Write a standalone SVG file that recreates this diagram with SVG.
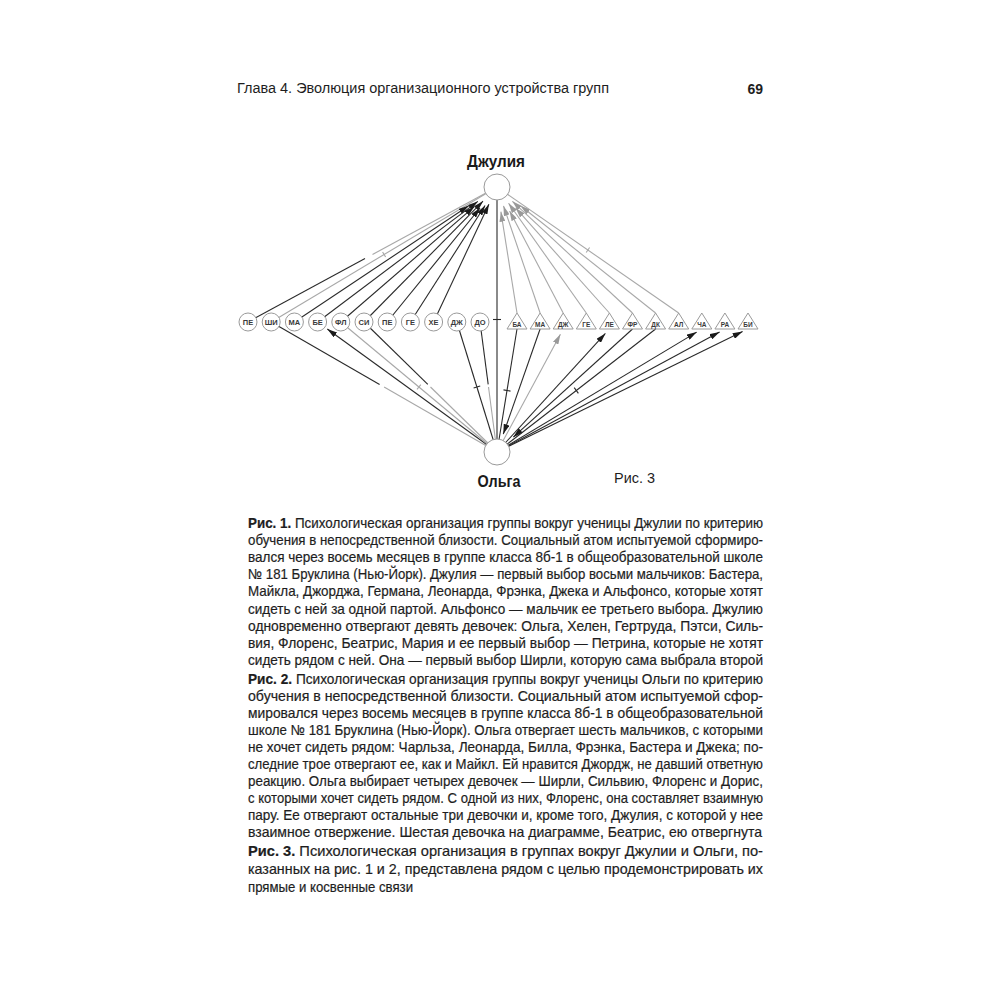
<svg xmlns="http://www.w3.org/2000/svg" width="1000" height="1000" viewBox="0 0 1000 1000">
<style>
.k{stroke:#2a2a2a;stroke-width:1.1;fill:none}
.g{stroke:#a8a8a8;stroke-width:1.1;fill:none}
.nc{fill:#fff;stroke:#9a9a9a;stroke-width:1}
.nl{font-family:"Liberation Sans",Arial,sans-serif;font-size:7.5px;font-weight:bold;fill:#3a3a3a;text-anchor:middle}
.tl{font-family:"Liberation Sans",Arial,sans-serif;font-size:6.5px;font-weight:bold;fill:#3a3a3a;text-anchor:middle}
.big{font-family:"Liberation Sans",Arial,sans-serif;font-size:16px;font-weight:bold;fill:#1a1a1a;text-anchor:middle}
.cap{font-family:"Liberation Sans",Arial,sans-serif;font-size:14.5px;fill:#1e1e1e;stroke:#1e1e1e;stroke-width:0.2}
.hd{font-family:"Liberation Sans",Arial,sans-serif;font-size:14px;fill:#1e1e1e}
.b{font-weight:bold}
</style>
<defs>
<marker id="ab" viewBox="0 0 10 6" refX="10" refY="3" markerWidth="10" markerHeight="6" markerUnits="userSpaceOnUse" orient="auto"><path d="M0,0 L10,3 L0,6 z" fill="#1a1a1a"/></marker>
<marker id="ag" viewBox="0 0 10 6" refX="10" refY="3" markerWidth="10" markerHeight="6" markerUnits="userSpaceOnUse" orient="auto"><path d="M0,0 L10,3 L0,6 z" fill="#999"/></marker>
</defs>
<rect width="1000" height="1000" fill="#fff"/>

<text class="hd" x="237" y="93" textLength="372" lengthAdjust="spacingAndGlyphs">Глава 4. Эволюция организационного устройства групп</text>
<text class="hd b" x="763" y="94" font-size="17" text-anchor="end">69</text>

<g id="connectors">
<!-- Julia top-left -->
<path class="k" d="M248,322 L365,258.6"/>
<path class="g" d="M372.5,254.5 L497,187"/>
<path class="g" d="M271.2,322 L497,187"/>
<path class="g" d="M382.6,251.9 L385.6,257.1"/>
<path class="k" d="M294.4,322 L468.7,205.8" marker-end="url(#ab)"/>
<path class="k" d="M317.6,322 L477.8,201.4" marker-end="url(#ab)"/>
<path class="k" d="M340.8,322 L474.3,206.6" marker-end="url(#ab)"/>
<path class="k" d="M364,322 L483,201.2" marker-end="url(#ab)"/>
<path class="k" d="M387.2,322 L480,208" marker-end="url(#ab)"/>
<path class="k" d="M410.4,322 L485.1,205.5" marker-end="url(#ab)"/>
<path class="k" d="M433.6,322 L488.9,204.2" marker-end="url(#ab)"/>
<!-- Julia - Olga -->
<path class="k" d="M497,187 L497,452"/>
<path class="k" d="M493,319.5 L501,319.5"/>
<!-- Julia top-right -->
<path class="g" d="M517,313 L500.9,211.7" marker-end="url(#ag)"/>
<path class="g" d="M540.1,313 L503.5,205.9" marker-end="url(#ag)"/>
<path class="g" d="M563.2,313 L509.6,210.9" marker-end="url(#ag)"/>
<path class="g" d="M586.3,313 L508.6,203.3" marker-end="url(#ag)"/>
<path class="g" d="M609.4,313 L515.6,207.9" marker-end="url(#ag)"/>
<path class="g" d="M632.5,313 L512.4,201.3" marker-end="url(#ag)"/>
<path class="g" d="M655.6,313 L520.5,205.7" marker-end="url(#ag)"/>
<path class="g" d="M678.7,313 L497,187"/>
<path class="g" d="M586.2,252.5 L589.6,247.5"/>
<!-- Olga bottom-left -->
<path class="k" d="M271.2,322 L379.6,384.4"/>
<path class="g" d="M384.1,387 L497,452"/>
<path class="k" d="M497,452 L327.3,329" marker-end="url(#ab)"/>
<path class="g" d="M340.8,322 L497,452"/>
<path class="g" d="M420.8,384.7 L417,389.3"/>
<path class="k" d="M364,322 L427.8,384.4"/>
<path class="g" d="M430.5,387 L497,452"/>
<path class="k" d="M456.8,322 L497,452"/>
<path class="k" d="M473.6,388 L480.2,386"/>
<path class="k" d="M480,322 L488.2,384.4"/>
<path class="g" d="M488.5,387 L497,452"/>
<!-- Olga bottom-right -->
<path class="k" d="M517,329 L497,452"/>
<path class="k" d="M503.5,389.9 L510.5,391.1"/>
<path class="k" d="M540.1,329 L503.3,434.1" marker-end="url(#ab)"/>
<path class="g" d="M497,452 L560.4,334.3" marker-end="url(#ag)"/>
<path class="k" d="M497,452 L605.4,333.4" marker-end="url(#ab)"/>
<path class="k" d="M632.5,329 L513.3,437.2" marker-end="url(#ab)"/>
<path class="k" d="M655.6,329 L497,452"/>
<path class="k" d="M574.2,387.7 L578.4,393.3"/>
<path class="k" d="M497,452 L696.7,332.1" marker-end="url(#ab)"/>
<path class="k" d="M497,452 L719.6,331.9" marker-end="url(#ab)"/>
<path class="k" d="M497,452 L742.6,331.6" marker-end="url(#ab)"/>
</g>

<g id="julia"><circle class="nc" cx="497" cy="187" r="13"/><text class="big" x="496" y="167" textLength="58" lengthAdjust="spacingAndGlyphs">Джулия</text></g>
<g id="olga"><circle class="nc" cx="497" cy="452" r="13"/><text class="big" x="499" y="487" textLength="43" lengthAdjust="spacingAndGlyphs">Ольга</text></g>
<text class="hd" x="614" y="483" font-size="12" textLength="41" lengthAdjust="spacingAndGlyphs">Рис. 3</text>

<g id="g-pe1"><circle class="nc" cx="248" cy="322" r="9"/><text class="nl" x="248" y="324.7">ПЕ</text></g>
<g id="g-shi"><circle class="nc" cx="271.2" cy="322" r="9"/><text class="nl" x="271.2" y="324.7">ШИ</text></g>
<g id="g-ma"><circle class="nc" cx="294.4" cy="322" r="9"/><text class="nl" x="294.4" y="324.7">МА</text></g>
<g id="g-be"><circle class="nc" cx="317.6" cy="322" r="9"/><text class="nl" x="317.6" y="324.7">БЕ</text></g>
<g id="g-fl"><circle class="nc" cx="340.8" cy="322" r="9"/><text class="nl" x="340.8" y="324.7">ФЛ</text></g>
<g id="g-si"><circle class="nc" cx="364" cy="322" r="9"/><text class="nl" x="364" y="324.7">СИ</text></g>
<g id="g-pe2"><circle class="nc" cx="387.2" cy="322" r="9"/><text class="nl" x="387.2" y="324.7">ПЕ</text></g>
<g id="g-ge"><circle class="nc" cx="410.4" cy="322" r="9"/><text class="nl" x="410.4" y="324.7">ГЕ</text></g>
<g id="g-he"><circle class="nc" cx="433.6" cy="322" r="9"/><text class="nl" x="433.6" y="324.7">ХЕ</text></g>
<g id="g-dzh"><circle class="nc" cx="456.8" cy="322" r="9"/><text class="nl" x="456.8" y="324.7">ДЖ</text></g>
<g id="g-do"><circle class="nc" cx="480" cy="322" r="9"/><text class="nl" x="480" y="324.7">ДО</text></g>

<g id="b-ba"><polygon class="nc" points="507,329 517,313 527,329"/><text class="tl" x="517" y="327">БА</text></g>
<g id="b-ma"><polygon class="nc" points="530.1,329 540.1,313 550.1,329"/><text class="tl" x="540.1" y="327">МА</text></g>
<g id="b-dzh"><polygon class="nc" points="553.2,329 563.2,313 573.2,329"/><text class="tl" x="563.2" y="327">ДЖ</text></g>
<g id="b-ge"><polygon class="nc" points="576.3,329 586.3,313 596.3,329"/><text class="tl" x="586.3" y="327">ГЕ</text></g>
<g id="b-le"><polygon class="nc" points="599.4,329 609.4,313 619.4,329"/><text class="tl" x="609.4" y="327">ЛЕ</text></g>
<g id="b-fr"><polygon class="nc" points="622.5,329 632.5,313 642.5,329"/><text class="tl" x="632.5" y="327">ФР</text></g>
<g id="b-dk"><polygon class="nc" points="645.6,329 655.6,313 665.6,329"/><text class="tl" x="655.6" y="327">ДК</text></g>
<g id="b-al"><polygon class="nc" points="668.7,329 678.7,313 688.7,329"/><text class="tl" x="678.7" y="327">АЛ</text></g>
<g id="b-cha"><polygon class="nc" points="691.8,329 701.8,313 711.8,329"/><text class="tl" x="701.8" y="327">ЧА</text></g>
<g id="b-ra"><polygon class="nc" points="714.9,329 724.9,313 734.9,329"/><text class="tl" x="724.9" y="327">РА</text></g>
<g id="b-bi"><polygon class="nc" points="738,329 748,313 758,329"/><text class="tl" x="748" y="327">БИ</text></g>

<g id="caption">
<text class="cap" x="248" y="528" textLength="515" lengthAdjust="spacingAndGlyphs"><tspan class="b">Рис. 1.</tspan> Психологическая организация группы вокруг ученицы Джулии по критерию</text>
<text class="cap" x="248" y="545.1" textLength="515" lengthAdjust="spacingAndGlyphs">обучения в непосредственной близости. Социальный атом испытуемой сформиро-</text>
<text class="cap" x="248" y="562.2" textLength="515" lengthAdjust="spacingAndGlyphs">вался через восемь месяцев в группе класса 8б-1 в общеобразовательной школе</text>
<text class="cap" x="248" y="579.3" textLength="515" lengthAdjust="spacingAndGlyphs">№ 181 Бруклина (Нью-Йорк). Джулия — первый выбор восьми мальчиков: Бастера,</text>
<text class="cap" x="248" y="596.4" textLength="515" lengthAdjust="spacingAndGlyphs">Майкла, Джорджа, Германа, Леонарда, Фрэнка, Джека и Альфонсо, которые хотят</text>
<text class="cap" x="248" y="613.5" textLength="515" lengthAdjust="spacingAndGlyphs">сидеть с ней за одной партой. Альфонсо — мальчик ее третьего выбора. Джулию</text>
<text class="cap" x="248" y="630.6" textLength="515" lengthAdjust="spacingAndGlyphs">одновременно отвергают девять девочек: Ольга, Хелен, Гертруда, Пэтси, Силь-</text>
<text class="cap" x="248" y="647.7" textLength="515" lengthAdjust="spacingAndGlyphs">вия, Флоренс, Беатрис, Мария и ее первый выбор — Петрина, которые не хотят</text>
<text class="cap" x="248" y="664.8" textLength="515" lengthAdjust="spacingAndGlyphs">сидеть рядом с ней. Она — первый выбор Ширли, которую сама выбрала второй</text>

<text class="cap" x="248" y="684" textLength="515" lengthAdjust="spacingAndGlyphs"><tspan class="b">Рис. 2.</tspan> Психологическая организация группы вокруг ученицы Ольги по критерию</text>
<text class="cap" x="248" y="701" textLength="515" lengthAdjust="spacingAndGlyphs">обучения в непосредственной близости. Социальный атом испытуемой сфор-</text>
<text class="cap" x="248" y="718" textLength="515" lengthAdjust="spacingAndGlyphs">мировался через восемь месяцев в группе класса 8б-1 в общеобразовательной</text>
<text class="cap" x="248" y="735" textLength="515" lengthAdjust="spacingAndGlyphs">школе № 181 Бруклина (Нью-Йорк). Ольга отвергает шесть мальчиков, с которыми</text>
<text class="cap" x="248" y="752" textLength="515" lengthAdjust="spacingAndGlyphs">не хочет сидеть рядом: Чарльза, Леонарда, Билла, Фрэнка, Бастера и Джека; по-</text>
<text class="cap" x="248" y="769" textLength="515" lengthAdjust="spacingAndGlyphs">следние трое отвергают ее, как и Майкл. Ей нравится Джордж, не давший ответную</text>
<text class="cap" x="248" y="786" textLength="515" lengthAdjust="spacingAndGlyphs">реакцию. Ольга выбирает четырех девочек — Ширли, Сильвию, Флоренс и Дорис,</text>
<text class="cap" x="248" y="803" textLength="515" lengthAdjust="spacingAndGlyphs">с которыми хочет сидеть рядом. С одной из них, Флоренс, она составляет взаимную</text>
<text class="cap" x="248" y="820" textLength="515" lengthAdjust="spacingAndGlyphs">пару. Ее отвергают остальные три девочки и, кроме того, Джулия, с которой у нее</text>
<text class="cap" x="248" y="837" textLength="514" lengthAdjust="spacingAndGlyphs">взаимное отвержение. Шестая девочка на диаграмме, Беатрис, ею отвергнута</text>

<text class="cap" x="248" y="856" textLength="515" lengthAdjust="spacingAndGlyphs"><tspan class="b">Рис. 3.</tspan> Психологическая организация в группах вокруг Джулии и Ольги, по-</text>
<text class="cap" x="248" y="874" textLength="515" lengthAdjust="spacingAndGlyphs">казанных на рис. 1 и 2, представлена рядом с целью продемонстрировать их</text>
<text class="cap" x="248" y="892" textLength="165" lengthAdjust="spacingAndGlyphs">прямые и косвенные связи</text>
</g>
</svg>
